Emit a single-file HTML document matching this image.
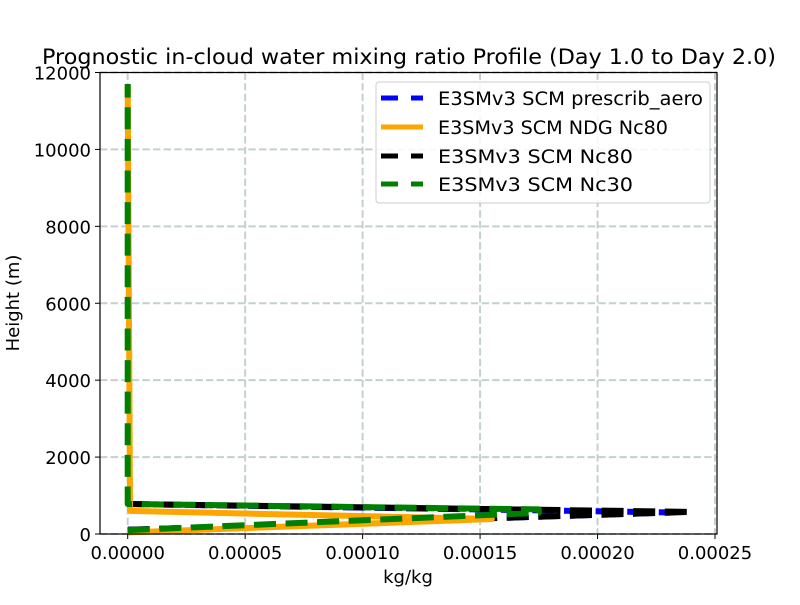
<!DOCTYPE html>
<html><head><meta charset="utf-8"><style>
body{margin:0;background:#fff;}
svg text{font-family:"DejaVu Sans","Liberation Sans",sans-serif;fill:#000;}
</style></head><body>
<svg id="chart" width="800" height="600" viewBox="0 0 800 600">
<rect width="800" height="600" fill="#fff"/>
<text x="409" y="64" font-size="21" text-anchor="middle" textLength="734" lengthAdjust="spacingAndGlyphs">Prognostic in-cloud water mixing ratio Profile (Day 1.0 to Day 2.0)</text>
<g id="grid"></g>
<g id="series"></g>
<rect x="100" y="72.5" width="617" height="461.5" fill="none" stroke="#000" stroke-width="1.2"/>
<g id="ticks"></g>
<text x="408" y="583" font-size="18" text-anchor="middle">kg/kg</text>
<text transform="translate(19,303) rotate(-90)" font-size="18" text-anchor="middle">Height (m)</text>
<g id="legend">
<rect x="376" y="82" width="334" height="121" rx="3" fill="#fff" fill-opacity="0.85" stroke="#ccc" stroke-width="1"/>
</g>
</svg>
<script>
const xTicks=[0,0.00005,0.0001,0.00015,0.0002,0.00025];
const xTickLabels=["0.00000","0.00005","0.00010","0.00015","0.00020","0.00025"];
const yTicks=[0,2000,4000,6000,8000,10000,12000];
const yTickLabels=["0","2000","4000","6000","8000","10000","12000"];
const seriesNames=["E3SMv3 SCM prescrib_aero","E3SMv3 SCM NDG Nc80","E3SMv3 SCM Nc80","E3SMv3 SCM Nc30"];
const heightsPrescrib=[110,560,780];
const valuesPrescrib=[0,0.000232,0];
const heightsNdg=[40,390,600,11700];
const valuesNdg=[0,0.000155,0.000001,0];
const heightsNc80=[110,575,780];
const valuesNc80=[0,0.00024,0];
const heightsNc30=[100,550,640,780,11700];
const valuesNc30=[0,0.000175,0.000175,0,0];
const legendWidths=[265,230,195,195];

const NS="http://www.w3.org/2000/svg";
const x0=127.7,x1=715,y0=534,yTop=72.5;
function xs(v){return x0+(v/0.00025)*(x1-x0);}
function ys(h){return y0-(h/12000)*(y0-yTop);}
function mk(tag,attrs,parent){const e=document.createElementNS(NS,tag);for(const k in attrs)e.setAttribute(k,attrs[k]);parent.appendChild(e);return e;}
const grid=document.getElementById('grid'),ticks=document.getElementById('ticks'),ser=document.getElementById('series'),leg=document.getElementById('legend');
xTicks.forEach((t,i)=>{
 const X=xs(t);
 const g=mk('line',{x1:X,x2:X,y1:yTop,y2:y0,stroke:'#c4d0d0',"stroke-width":2,"stroke-dasharray":"7.4 3.2"},grid);
 
 
 const tk=mk('line',{x1:X,x2:X,y1:y0,y2:y0+5,stroke:'#000',"stroke-width":1},ticks);
 
 
 const tx=mk('text',{x:X,y:y0+25,"font-size":18,"text-anchor":"middle"},ticks);
 tx.textContent=xTickLabels[i];
 
 
});
yTicks.forEach((t,i)=>{
 const Y=ys(t);
 const g=mk('line',{x1:100,x2:717,y1:Y,y2:Y,stroke:'#c4d0d0',"stroke-width":2,"stroke-dasharray":"7.4 3.2"},grid);
 
 
 const tk=mk('line',{x1:95,x2:100,y1:Y,y2:Y,stroke:'#000',"stroke-width":1},ticks);
 
 
 const tx=mk('text',{x:91,y:Y+7,"font-size":18,"text-anchor":"end"},ticks);
 tx.textContent=yTickLabels[i];
 
 
});
const defs=[
 {h:heightsPrescrib,v:valuesPrescrib,c:'#0000ff',d:'22 9.6',n:'series-prescrib-aero'},
 {h:heightsNc80,v:valuesNc80,c:'#000000',d:'22 9.6',n:'series-nc80'},
 {h:heightsNdg,v:valuesNdg,c:'#ffa500',d:'',n:'series-ndg-nc80'},
 {h:heightsNc30,v:valuesNc30,c:'#008000',d:'22 9.6',n:'series-nc30'}
];
defs.forEach((s)=>{
 const pts=s.h.map((h,j)=>xs(s.v[j])+','+ys(h)).join(' ');
 const p=mk('polyline',{points:pts,fill:'none',stroke:s.c,"stroke-width":6,"stroke-linejoin":"round"},ser);
 if(s.d)p.setAttribute('stroke-dasharray',s.d);
 
 
});
const legColors=['#0000ff','#ffa500','#000000','#008000'];
const legDash=[true,false,true,true];
seriesNames.forEach((nm,i)=>{
 const Y=[98,127,156,184][i];
 const l=mk('line',{x1:381,x2:423,y1:Y,y2:Y,stroke:legColors[i],"stroke-width":5},leg);
 if(legDash[i])l.setAttribute('stroke-dasharray','17 13');
 
 
 const t=mk('text',{x:438,y:Y+7,"font-size":18.5,textLength:legendWidths[i],lengthAdjust:'spacingAndGlyphs'},leg);
 t.textContent=nm;
 
 
});
</script>
</body></html>
